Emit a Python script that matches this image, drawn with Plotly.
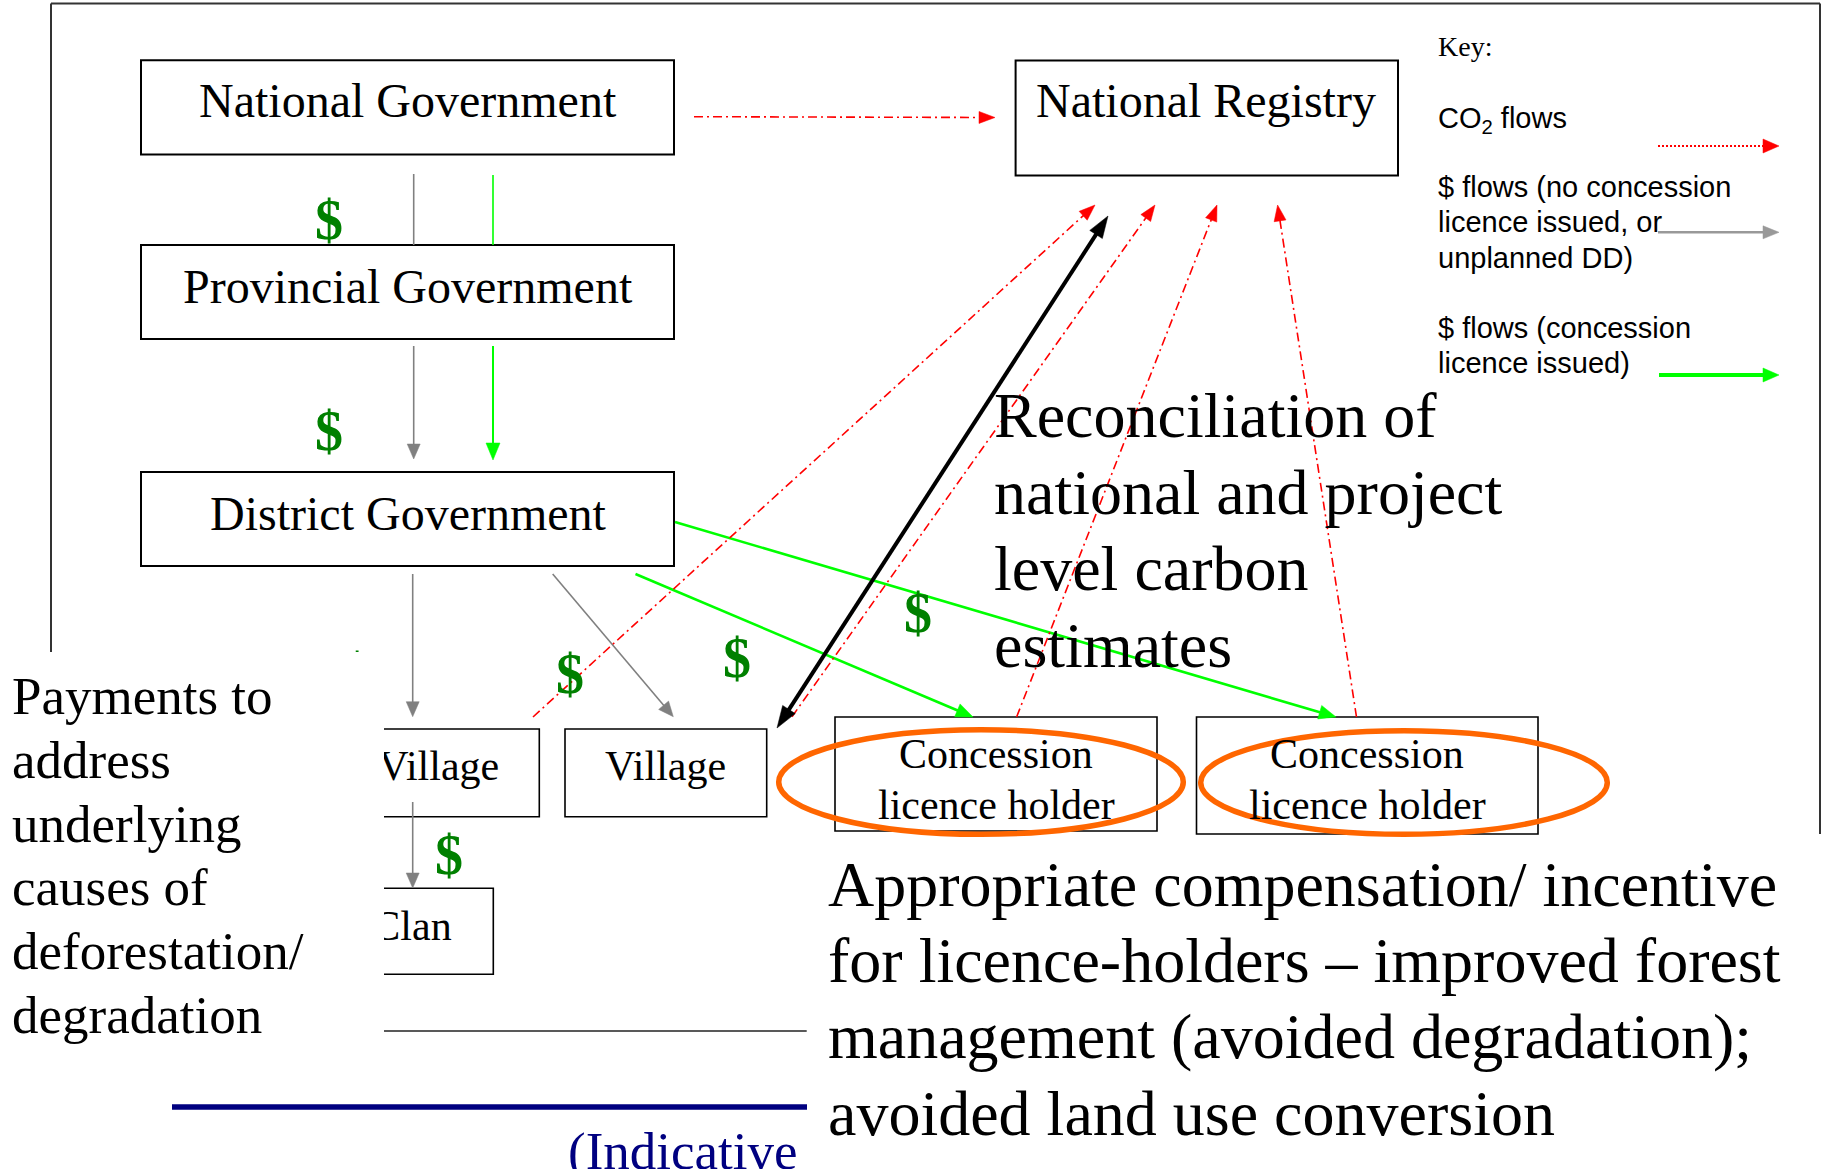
import math
import plotly.graph_objects as go

W, H = 1825, 1169
SERIF = "Liberation Serif, Times New Roman, serif"
SANS = "Liberation Sans, Arial, sans-serif"

# ---------------- content ----------------
gov_labels = ["National Government", "Provincial Government", "District Government", "National Registry"]
gov_x0 = [141, 141, 141, 1015.6]
gov_x1 = [674, 674, 674, 1398]
gov_y0 = [60.3, 245, 472, 60.5]
gov_y1 = [154.5, 339, 566, 175.5]
gov_text_x = [408, 408, 408, 1206]
gov_text_base = [117, 302.3, 530, 116.7]

small_labels = ["Village", "Concession<br>licence holder", "Concession<br>licence holder"]
small_x0 = [565, 835, 1196.5]
small_x1 = [766.7, 1157, 1538]
small_y0 = [729, 717, 717]
small_y1 = [816.7, 831, 834]

hidden_labels = ["Village", "Clan"]          # partly covered on the left
hidden_x0 = [250, 250]
hidden_x1 = [539.3, 493.3]
hidden_y0 = [729, 888.3]
hidden_y1 = [816.7, 974.3]
hidden_text_x = [438.7, 412]
hidden_text_base = [780, 940]

reconcile_lines = ["Reconciliation of", "national and project", "level carbon", "estimates"]
incentive_lines = ["Appropriate compensation/ incentive", "for licence-holders \u2013 improved forest",
                   "management (avoided degradation);", "avoided land use conversion"]
payment_lines = ["Payments to", "address", "underlying", "causes of", "deforestation/", "degradation"]
key_title = "Key:"
key_lines = ["CO<sub>2</sub> flows", "$ flows (no concession", "licence issued, or", "unplanned DD)",
             "$ flows (concession", "licence issued)"]
key_base = [126.7, 197, 231.7, 267.7, 338.3, 373.3]
footer_text = "(Indicative"

dollar_x = [328.6, 328.6, 570, 736.7, 449, 918]
dollar_y = [220, 431, 674, 658.3, 855, 613]

# flows: (x0, y0, x1, y1)
co2_flows = [(694, 116.7, 995, 117.5), (533, 717, 1095, 205), (792, 716.7, 1155, 205),
             (1016.6, 717, 1217, 205), (1356.5, 717, 1277.6, 205)]
gray_flows = [(413.7, 346, 413.7, 459), (412.7, 574, 412.7, 716.7),
              (552.7, 574, 673.3, 716.7), (412.7, 802, 412.7, 888)]
green_flows = [(493, 346, 493, 460, 2), (675, 522, 1336, 717, 2.6), (635.5, 574, 973, 717, 2.6)]

RED = "#FF0000"
GREEN = "#00FF00"
DGREEN = "#008000"
GRAY = "#808080"
ORANGE = "#FF6600"
NAVY = "#000080"

shapes = []
anns = []


def line(x0, y0, x1, y1, color, width, dash="solid"):
    shapes.append(dict(type="line", xref="x", yref="y", x0=x0, y0=y0, x1=x1, y1=y1,
                       layer="above", line=dict(color=color, width=width, dash=dash)))


def head(xt, yt, ux, uy, L, Wd, color):
    bx, by = xt - ux * L, yt - uy * L
    px, py = -uy, ux
    path = (f"M {xt},{yt} L {bx + px * Wd / 2},{by + py * Wd / 2} "
            f"L {bx - px * Wd / 2},{by - py * Wd / 2} Z")
    shapes.append(dict(type="path", xref="x", yref="y", path=path, fillcolor=color,
                       layer="above", line=dict(color=color, width=0.5)))
    return bx, by


def arrow(x0, y0, x1, y1, color, width, dash="solid", L=15, Wd=12, both=False):
    d = math.hypot(x1 - x0, y1 - y0)
    ux, uy = (x1 - x0) / d, (y1 - y0) / d
    bx, by = head(x1, y1, ux, uy, L, Wd, color)
    sx, sy = x0, y0
    if both:
        sx, sy = head(x0, y0, -ux, -uy, L, Wd, color)
        sx, sy = sx - ux, sy - uy
    line(sx, sy, bx + ux, by + uy, color, width, dash)


def rect(x0, x1, y0, y1, width=2, color="black"):
    shapes.append(dict(type="rect", xref="x", yref="y", x0=x0, x1=x1, y0=y0, y1=y1,
                       layer="above", line=dict(color=color, width=width)))


def text(x, base, s, size, family=SERIF, color="black", xanchor="left", off=0.3375):
    anns.append(dict(x=x, y=base - off * size, xref="x", yref="y", text=s, showarrow=False,
                     xanchor=xanchor, yanchor="middle", borderpad=0, borderwidth=0,
                     font=dict(family=family, size=size, color=color)))


# frame
line(51, 3.5, 1820, 3.5, "#333333", 2)
line(51, 3.5, 51, 652, "#333333", 2)
line(1820, 3.5, 1820, 834, "#333333", 2)

# government boxes
for i, lab in enumerate(gov_labels):
    rect(gov_x0[i], gov_x1[i], gov_y0[i], gov_y1[i], 2)
    text(gov_text_x[i], gov_text_base[i], lab, 48, xanchor="center")

# small boxes
for i, lab in enumerate(small_labels):
    rect(small_x0[i], small_x1[i], small_y0[i], small_y1[i], 1.6)
    cx = (small_x0[i] + small_x1[i]) / 2
    parts = lab.split("<br>")
    if len(parts) == 1:
        text(cx, 780, parts[0], 42, xanchor="center")
    else:
        text(cx, 768.4, parts[0], 42, xanchor="center")
        text(cx, 818.7, parts[1], 42, xanchor="center")

# partly hidden boxes
for i in range(len(hidden_labels)):
    rect(hidden_x0[i], hidden_x1[i], hidden_y0[i], hidden_y1[i], 1.6)

# links National -> Provincial (no heads)
line(413.7, 174, 413.7, 245, GRAY, 1.6)
line(493, 175, 493, 245, GREEN, 1.6)

for f in gray_flows:
    arrow(*f, GRAY, 1.6, L=15, Wd=13)
for f in green_flows:
    arrow(f[0], f[1], f[2], f[3], GREEN, f[4], L=17, Wd=14)
for f in co2_flows:
    arrow(*f, RED, 1.6, dash="9px,4px,2px,4px", L=16, Wd=12)

# reconciliation double arrow
arrow(777, 728, 1108, 216, "black", 4, L=22, Wd=15, both=True)

# ellipses around concession holders
shapes.append(dict(type="circle", xref="x", yref="y", x0=778.7, x1=1183.3, y0=729.7, y1=834.3,
                   layer="above", line=dict(color=ORANGE, width=5.5)))
shapes.append(dict(type="circle", xref="x", yref="y", x0=1200.7, x1=1607.3, y0=730.7, y1=834.3,
                   layer="above", line=dict(color=ORANGE, width=5.5)))

# key arrows
arrow(1658, 146, 1779, 146, RED, 2, dash="2px,2px", L=16, Wd=14)
arrow(1658, 232.3, 1779, 232.3, "#999999", 2.5, L=16, Wd=13)
arrow(1659, 375, 1779, 375, GREEN, 4, L=16, Wd=14)

# white cover on the left and lines over it
shapes.append(dict(type="rect", xref="x", yref="y", x0=0, x1=384, y0=652, y1=H + 30,
                   layer="above", fillcolor="white", line=dict(width=0)))
line(384, 1031, 806.7, 1031, "#222222", 1.6)
line(172, 1107, 807, 1107, NAVY, 5.5)

# texts
for i, s in enumerate(reconcile_lines):
    text(994, 437 + 76.6 * i, s, 64)
for i, s in enumerate(incentive_lines):
    text(828.3, 905.7 + 76.4 * i, s, 64)
for i, s in enumerate(payment_lines):
    text(11.7, 714 + 63.7 * i, s, 53)

text(1438, 56, key_title, 28)
for i, s in enumerate(key_lines):
    extra = 3.4 if "<sub>" in s else 0
    text(1438, key_base[i] + extra, s, 29, family=SANS, off=0.3465)

anns.append(dict(x=798, y=1121.5, xref="x", yref="y", text=footer_text, showarrow=False,
                 xanchor="right", yanchor="top", borderpad=0, borderwidth=0,
                 font=dict(family=SERIF, size=53, color=NAVY)))

for i in range(len(dollar_x)):
    text(dollar_x[i], dollar_y[i] + 0.3375 * 56, "<b>$</b>", 56, color=DGREEN, xanchor="center")

fig = go.Figure()
# labels partly hidden beneath the white cover (traces sit under 'above' shapes)
fig.add_trace(go.Scatter(x=hidden_text_x, y=[b - 0.25 * 42 for b in hidden_text_base],
                         text=hidden_labels, mode="text", textposition="middle center",
                         textfont=dict(family=SERIF, size=42, color="black"), hoverinfo="skip"))
fig.add_trace(go.Scatter(x=[357], y=[692 - 0.25 * 56], text=["<b>$</b>"], mode="text",
                         textposition="middle center",
                         textfont=dict(family=SERIF, size=56, color=DGREEN), hoverinfo="skip"))

fig.update_layout(
    width=W, height=H, margin=dict(l=0, r=0, t=0, b=0),
    paper_bgcolor="white", plot_bgcolor="white", showlegend=False,
    xaxis=dict(range=[0, W], visible=False, fixedrange=True),
    yaxis=dict(range=[H, 0], visible=False, fixedrange=True),
    shapes=shapes, annotations=anns,
)
fig.write_html("out.html", config={"displayModeBar": False},
               post_script="document.body.style.margin='0';document.body.style.overflow='hidden';")
